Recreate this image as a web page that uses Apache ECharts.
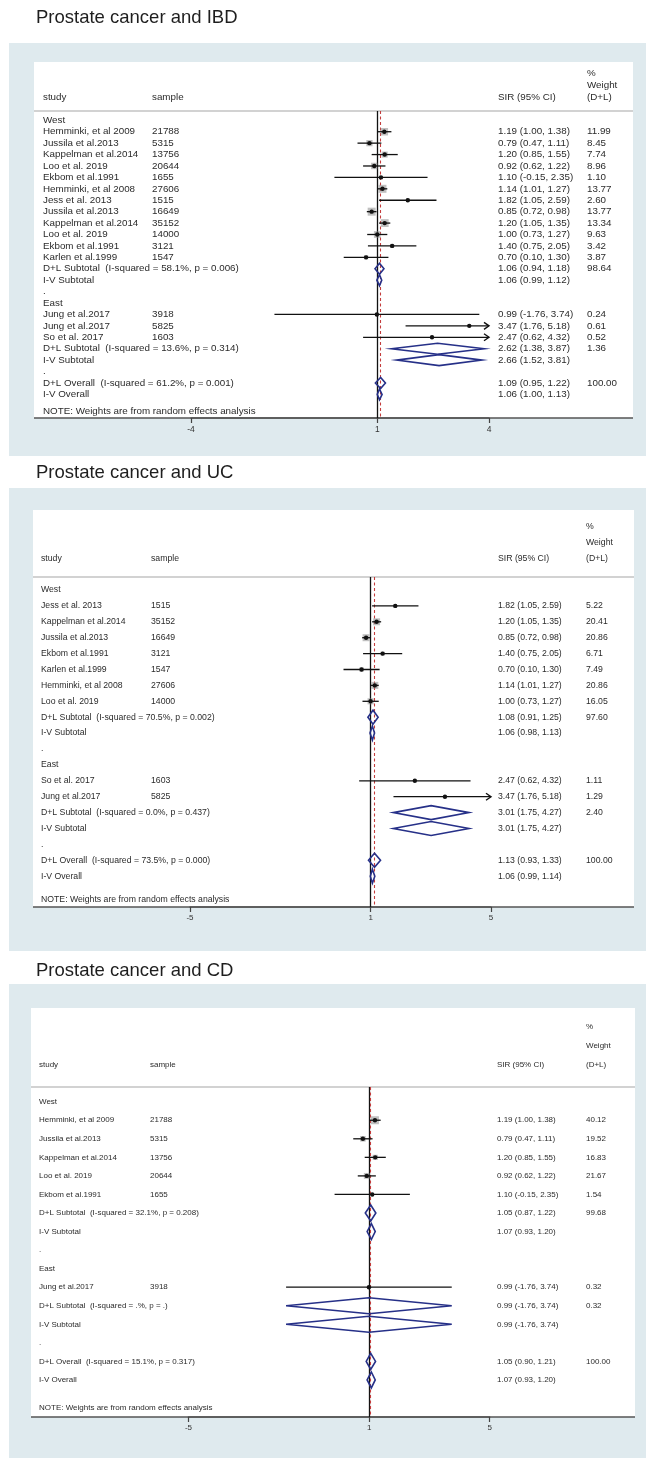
<!DOCTYPE html>
<html>
<head>
<meta charset="utf-8">
<script src="https://cdn.jsdelivr.net/npm/echarts@6/dist/echarts.min.js"></script>
<style>
html,body{margin:0;padding:0;background:#fff;}
#c{width:646px;height:1459px;}
</style>
</head>
<body>
<div id="c"></div>
<script>
// ================= DATA =================
const panelTitles = ["Prostate cancer and IBD", "Prostate cancer and UC", "Prostate cancer and CD"];
const groupNames = ["West", "East"];
const noteText = "NOTE: Weights are from random effects analysis";
const headerLabels = ["study", "sample", "SIR (95% CI)", "%", "Weight", "(D+L)"];
const nullValue = 1;

// ---- IBD ----
const ibdWestStudy = ["Hemminki, et al 2009","Jussila et al.2013","Kappelman et al.2014","Loo et al. 2019","Ekbom et al.1991","Hemminki, et al 2008","Jess et al. 2013","Jussila et al.2013","Kappelman et al.2014","Loo et al. 2019","Ekbom et al.1991","Karlen et al.1999"];
const ibdWestSample = [21788,5315,13756,20644,1655,27606,1515,16649,35152,14000,3121,1547];
const ibdWestSIR = [1.19,0.79,1.20,0.92,1.10,1.14,1.82,0.85,1.20,1.00,1.40,0.70];
const ibdWestLow = [1.00,0.47,0.85,0.62,-0.15,1.01,1.05,0.72,1.05,0.73,0.75,0.10];
const ibdWestHigh = [1.38,1.11,1.55,1.22,2.35,1.27,2.59,0.98,1.35,1.27,2.05,1.30];
const ibdWestWeight = [11.99,8.45,7.74,8.96,1.10,13.77,2.60,13.77,13.34,9.63,3.42,3.87];
const ibdEastStudy = ["Jung et al.2017","Jung et al.2017","So et al. 2017"];
const ibdEastSample = [3918,5825,1603];
const ibdEastSIR = [0.99,3.47,2.47];
const ibdEastLow = [-1.76,1.76,0.62];
const ibdEastHigh = [3.74,5.18,4.32];
const ibdEastWeight = [0.24,0.61,0.52];
// pooled rows: [West subtotal, East subtotal, Overall]
const ibdHet = ["I-squared = 58.1%, p = 0.006","I-squared = 13.6%, p = 0.314","I-squared = 61.2%, p = 0.001"];
const ibdDLSIR = [1.06,2.62,1.09];
const ibdDLLow = [0.94,1.38,0.95];
const ibdDLHigh = [1.18,3.87,1.22];
const ibdDLWeight = [98.64,1.36,100.00];
const ibdIVSIR = [1.06,2.66,1.06];
const ibdIVLow = [0.99,1.52,1.00];
const ibdIVHigh = [1.12,3.81,1.13];
const ibdTicks = [-4,1,4];

// ---- UC ----
const ucWestStudy = ["Jess et al. 2013","Kappelman et al.2014","Jussila et al.2013","Ekbom et al.1991","Karlen et al.1999","Hemminki, et al 2008","Loo et al. 2019"];
const ucWestSample = [1515,35152,16649,3121,1547,27606,14000];
const ucWestSIR = [1.82,1.20,0.85,1.40,0.70,1.14,1.00];
const ucWestLow = [1.05,1.05,0.72,0.75,0.10,1.01,0.73];
const ucWestHigh = [2.59,1.35,0.98,2.05,1.30,1.27,1.27];
const ucWestWeight = [5.22,20.41,20.86,6.71,7.49,20.86,16.05];
const ucEastStudy = ["So et al. 2017","Jung et al.2017"];
const ucEastSample = [1603,5825];
const ucEastSIR = [2.47,3.47];
const ucEastLow = [0.62,1.76];
const ucEastHigh = [4.32,5.18];
const ucEastWeight = [1.11,1.29];
const ucHet = ["I-squared = 70.5%, p = 0.002","I-squared = 0.0%, p = 0.437","I-squared = 73.5%, p = 0.000"];
const ucDLSIR = [1.08,3.01,1.13];
const ucDLLow = [0.91,1.75,0.93];
const ucDLHigh = [1.25,4.27,1.33];
const ucDLWeight = [97.60,2.40,100.00];
const ucIVSIR = [1.06,3.01,1.06];
const ucIVLow = [0.98,1.75,0.99];
const ucIVHigh = [1.13,4.27,1.14];
const ucTicks = [-5,1,5];

// ---- CD ----
const cdWestStudy = ["Hemminki, et al 2009","Jussila et al.2013","Kappelman et al.2014","Loo et al. 2019","Ekbom et al.1991"];
const cdWestSample = [21788,5315,13756,20644,1655];
const cdWestSIR = [1.19,0.79,1.20,0.92,1.10];
const cdWestLow = [1.00,0.47,0.85,0.62,-0.15];
const cdWestHigh = [1.38,1.11,1.55,1.22,2.35];
const cdWestWeight = [40.12,19.52,16.83,21.67,1.54];
const cdEastStudy = ["Jung et al.2017"];
const cdEastSample = [3918];
const cdEastSIR = [0.99];
const cdEastLow = [-1.76];
const cdEastHigh = [3.74];
const cdEastWeight = [0.32];
const cdHet = ["I-squared = 32.1%, p = 0.208","I-squared = .%, p = .","I-squared = 15.1%, p = 0.317"];
const cdDLSIR = [1.05,0.99,1.05];
const cdDLLow = [0.87,-1.76,0.90];
const cdDLHigh = [1.22,3.74,1.21];
const cdDLWeight = [99.68,0.32,100.00];
const cdIVSIR = [1.07,0.99,1.07];
const cdIVLow = [0.93,-1.76,0.93];
const cdIVHigh = [1.20,3.74,1.20];
const cdTicks = [-5,1,5];

// ================= ASSEMBLY =================
const panelsData = [
  {west:{study:ibdWestStudy,sample:ibdWestSample,sir:ibdWestSIR,low:ibdWestLow,high:ibdWestHigh,weight:ibdWestWeight},
   east:{study:ibdEastStudy,sample:ibdEastSample,sir:ibdEastSIR,low:ibdEastLow,high:ibdEastHigh,weight:ibdEastWeight},
   het:ibdHet, dl:{sir:ibdDLSIR,low:ibdDLLow,high:ibdDLHigh,weight:ibdDLWeight}, iv:{sir:ibdIVSIR,low:ibdIVLow,high:ibdIVHigh}, ticks:ibdTicks},
  {west:{study:ucWestStudy,sample:ucWestSample,sir:ucWestSIR,low:ucWestLow,high:ucWestHigh,weight:ucWestWeight},
   east:{study:ucEastStudy,sample:ucEastSample,sir:ucEastSIR,low:ucEastLow,high:ucEastHigh,weight:ucEastWeight},
   het:ucHet, dl:{sir:ucDLSIR,low:ucDLLow,high:ucDLHigh,weight:ucDLWeight}, iv:{sir:ucIVSIR,low:ucIVLow,high:ucIVHigh}, ticks:ucTicks},
  {west:{study:cdWestStudy,sample:cdWestSample,sir:cdWestSIR,low:cdWestLow,high:cdWestHigh,weight:cdWestWeight},
   east:{study:cdEastStudy,sample:cdEastSample,sir:cdEastSIR,low:cdEastLow,high:cdEastHigh,weight:cdEastWeight},
   het:cdHet, dl:{sir:cdDLSIR,low:cdDLLow,high:cdDLHigh,weight:cdDLWeight}, iv:{sir:cdIVSIR,low:cdIVLow,high:cdIVHigh}, ticks:cdTicks}
];

// layout (pixels)
const layouts = [
  {titleY:18, bg:[9,43,637,413], box:[34,62,599,356], hdr:[73,85,97], sepY:111, axisY:418, cols:[43,152,498,587], fs:9.8, tickFs:8.5, plotX:[191,489], range:[-4,4], firstY:120.3, step:11.42, boxMax:8, diaH:11},
  {titleY:473, bg:[9,488,637,463], box:[33,510,601,397], hdr:[526.7,542.7,559], sepY:577, axisY:907, cols:[41,151,498,586], fs:8.7, tickFs:8, plotX:[190,491], range:[-5,5], firstY:590, step:15.9, boxMax:7, diaH:14},
  {titleY:970.7, bg:[9,984,637,474], box:[31,1008,604,409], hdr:[1027,1046,1065], sepY:1087, axisY:1417, cols:[39,150,497,586], fs:8, tickFs:8, plotX:[188.5,489.7], range:[-5,5], firstY:1101.7, step:18.55, boxMax:8, diaH:16}
];

const FONT = '"Liberation Sans", Arial, Helvetica, sans-serif';
const TEXT = '#2b2b2b';
const NAVY = '#263088';
const BLUEBG = '#dfeaee';

function fmtCI(e, l, h) { return e.toFixed(2) + ' (' + l.toFixed(2) + ', ' + h.toFixed(2) + ')'; }

function buildRows(p) {
  const rows = [];
  let pos = 0;
  [p.west, p.east].forEach((g, gi) => {
    rows.push({kind:'text', text:groupNames[gi], pos:pos++});
    g.study.forEach((s, i) => rows.push({kind:'study', text:s, sample:String(g.sample[i]), est:g.sir[i], lo:g.low[i], hi:g.high[i], w:g.weight[i], pos:pos++}));
    rows.push({kind:'pool', text:'D+L Subtotal  (' + p.het[gi] + ')', est:p.dl.sir[gi], lo:p.dl.low[gi], hi:p.dl.high[gi], w:p.dl.weight[gi], pos:pos++});
    rows.push({kind:'pool', text:'I-V Subtotal', est:p.iv.sir[gi], lo:p.iv.low[gi], hi:p.iv.high[gi], w:null, pos:pos++});
    rows.push({kind:'text', text:'.', pos:pos++});
  });
  rows.push({kind:'pool', text:'D+L Overall  (' + p.het[2] + ')', est:p.dl.sir[2], lo:p.dl.low[2], hi:p.dl.high[2], w:p.dl.weight[2], pos:pos++});
  rows.push({kind:'pool', text:'I-V Overall', est:p.iv.sir[2], lo:p.iv.low[2], hi:p.iv.high[2], w:null, pos:pos++});
  rows.push({kind:'text', text:noteText, pos:pos + 0.5});
  return rows;
}

function txt(x, y, s, fs, align) {
  return {type:'text', x:x, y:y, silent:true, style:{text:s, fill:TEXT, fontSize:fs, fontFamily:FONT,
    align:align || 'left', verticalAlign:'middle', textAlign:align || 'left', textVerticalAlign:'middle'}};
}

const grids = [], xAxes = [], yAxes = [], series = [], graphics = [];

panelsData.forEach((p, i) => {
  const L = layouts[i];
  const rows = buildRows(p);
  const allW = p.west.weight.concat(p.east.weight);
  const wmax = Math.max.apply(null, allW);

  // backgrounds & static text
  graphics.push({type:'rect', silent:true, shape:{x:L.bg[0], y:L.bg[1], width:L.bg[2], height:L.bg[3]}, style:{fill:BLUEBG}});
  graphics.push({type:'rect', silent:true, shape:{x:L.box[0], y:L.box[1], width:L.box[2], height:L.box[3]}, style:{fill:'#ffffff'}});
  const t = txt(36, L.titleY, panelTitles[i], 18.5);
  t.style.fill = '#1e1e1e';
  graphics.push(t);
  graphics.push(txt(L.cols[3], L.hdr[0], headerLabels[3], L.fs));
  graphics.push(txt(L.cols[3], L.hdr[1], headerLabels[4], L.fs));
  graphics.push(txt(L.cols[0], L.hdr[2], headerLabels[0], L.fs));
  graphics.push(txt(L.cols[1], L.hdr[2], headerLabels[1], L.fs));
  graphics.push(txt(L.cols[2], L.hdr[2], headerLabels[2], L.fs));
  graphics.push(txt(L.cols[3], L.hdr[2], headerLabels[5], L.fs));
  graphics.push({type:'line', silent:true, shape:{x1:L.box[0], y1:L.sepY, x2:L.box[0] + L.box[2], y2:L.sepY}, style:{stroke:'#d2d2d2', lineWidth:1.8}});
  graphics.push({type:'line', silent:true, shape:{x1:L.box[0], y1:L.axisY, x2:L.box[0] + L.box[2], y2:L.axisY}, style:{stroke:'#555555', lineWidth:1.5}});

  // grid: plot region
  const gh = L.axisY - L.sepY;
  const ymin = -(L.firstY - L.sepY) / L.step;
  const ymax = ymin + gh / L.step;
  grids.push({left:L.plotX[0], width:L.plotX[1] - L.plotX[0], top:L.sepY, height:gh, containLabel:false});
  xAxes.push({gridIndex:i, type:'value', min:L.range[0], max:L.range[1],
    axisLine:{show:true, onZero:false, lineStyle:{color:'#555555', width:1.5}},
    splitLine:{show:false},
    axisTick:{show:true, customValues:p.ticks, length:5, inside:false, lineStyle:{color:'#444444', width:1.2}},
    axisLabel:{show:true, customValues:p.ticks, fontSize:L.tickFs, fontFamily:FONT, color:'#333333', margin:7}});
  yAxes.push({gridIndex:i, type:'value', inverse:true, min:ymin, max:ymax, show:false,
    axisLine:{show:false}, splitLine:{show:false}, axisTick:{show:false}, axisLabel:{show:false}});

  // reference lines
  series.push({type:'line', xAxisIndex:i, yAxisIndex:i, data:[[nullValue, 0]], symbol:'none', silent:true,
    lineStyle:{opacity:0}, z:3, animation:false,
    markLine:{symbol:['none','none'], silent:true, animation:false, label:{show:false},
      data:[
        {xAxis:nullValue, lineStyle:{color:'#111111', width:1.3, type:'solid'}},
        {xAxis:p.dl.sir[2], lineStyle:{color:'#c43c3c', width:1.1, type:[3,2.5]}}
      ]}});

  // rows
  series.push({type:'custom', xAxisIndex:i, yAxisIndex:i, coordinateSystem:'cartesian2d',
    data:rows.map(r => [r.est != null ? r.est : 0, r.pos]), encode:{x:0, y:1},
    clip:false, z:5, silent:true, animation:false,
    renderItem:function (params, api) {
      const r = rows[params.dataIndex];
      const y = api.coord([0, r.pos])[1];
      const X = v => api.coord([v, r.pos])[0];
      const ch = [];
      ch.push(txt(L.cols[0], y, r.text, L.fs));
      if (r.kind === 'study') {
        ch.push(txt(L.cols[1], y, r.sample, L.fs));
        ch.push(txt(L.cols[2], y, fmtCI(r.est, r.lo, r.hi), L.fs));
        ch.push(txt(L.cols[3], y, r.w.toFixed(2), L.fs));
        const side = L.boxMax * Math.sqrt(r.w / wmax);
        const xe = X(r.est);
        ch.push({type:'rect', shape:{x:xe - side / 2, y:y - side / 2, width:side, height:side}, style:{fill:'rgba(140,140,140,0.55)'}});
        const lo = Math.max(r.lo, L.range[0]), hi = Math.min(r.hi, L.range[1]);
        ch.push({type:'line', shape:{x1:X(lo), y1:y, x2:X(hi), y2:y}, style:{stroke:'#111111', lineWidth:1.3}});
        if (r.hi > L.range[1]) {
          const xt = X(L.range[1]);
          ch.push({type:'polyline', shape:{points:[[xt - 5, y - 3.5], [xt, y], [xt - 5, y + 3.5]]}, style:{stroke:'#111111', lineWidth:1.4, fill:'none'}});
        }
        if (r.lo < L.range[0]) {
          const xt = X(L.range[0]);
          ch.push({type:'polyline', shape:{points:[[xt + 5, y - 3.5], [xt, y], [xt + 5, y + 3.5]]}, style:{stroke:'#111111', lineWidth:1.4, fill:'none'}});
        }
        ch.push({type:'circle', shape:{cx:xe, cy:y, r:2.2}, style:{fill:'#111111'}});
      } else if (r.kind === 'pool') {
        ch.push(txt(L.cols[2], y, fmtCI(r.est, r.lo, r.hi), L.fs));
        if (r.w != null) ch.push(txt(L.cols[3], y, r.w.toFixed(2), L.fs));
        const h = L.diaH / 2;
        ch.push({type:'polygon', shape:{points:[[X(r.lo), y], [X(r.est), y - h], [X(r.hi), y], [X(r.est), y + h]]},
          style:{stroke:NAVY, fill:'none', lineWidth:1.6}});
      }
      return {type:'group', children:ch};
    }});
});

const chart = echarts.init(document.getElementById('c'), null, {renderer:'canvas'});
chart.setOption({
  animation:false,
  backgroundColor:'#ffffff',
  grid:grids, xAxis:xAxes, yAxis:yAxes, series:series,
  graphic:{elements:graphics}
});
</script>
</body>
</html>
